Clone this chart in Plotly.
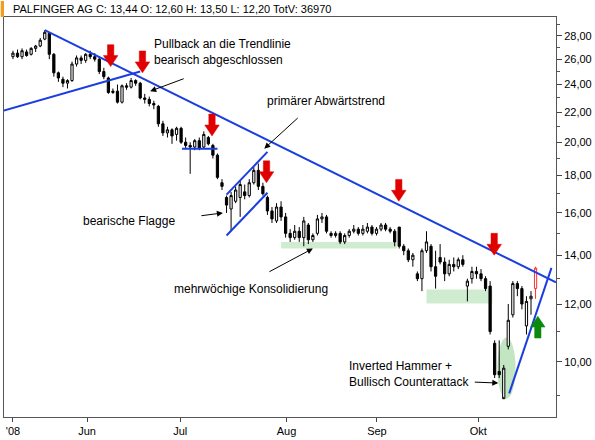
import numpy as np
import plotly.graph_objects as go

# trading-day index, one candle per day (mid May .. 17 Oct 2008)
opens = [26.2, 26.5, 26.2, 26.6, 26.4, 26.9, 27.1, 27.7, 28.2, 26.4, 24.9, 24.4, 24.1, 24.3, 25.6, 26.1,
         25.9, 26.4, 26.2, 26.0, 25.0, 24.5, 23.4, 23.5, 22.7, 23.9, 23.8, 24.3, 24.1, 23.0, 22.9, 22.6,
         22.4, 21.2, 20.6, 20.8, 20.5, 20.9, 20.0, 19.8, 19.7, 20.1, 19.7, 20.3, 19.8, 19.2, 17.6, 16.8,
         16.2, 16.6, 16.8, 17.1, 16.9, 17.6, 18.3, 17.4, 16.8, 16.1, 15.6, 16.3, 15.8, 15.0, 14.8, 15.1,
         14.8, 15.4, 14.7, 15.0, 15.7, 15.8, 15.0, 14.9, 15.0, 14.6, 14.9, 15.1, 15.2, 15.0, 15.1, 15.3,
         15.0, 15.2, 15.4, 15.2, 15.1, 15.3, 14.4, 14.2, 13.8, 13.2, 13.0, 14.2, 14.4, 13.5, 13.9, 13.7,
         13.2, 13.6, 13.5, 13.8, 12.7, 13.0, 13.3, 13.2, 13.0, 12.7, 10.6, 9.7, 8.9, 10.5, 11.6, 12.8,
         12.6, 11.2, 12.2]
highs = [26.7, 26.8, 26.9, 26.8, 27.0, 27.2, 27.8, 28.5, 28.3, 26.5, 25.0, 24.6, 24.4, 25.8, 26.3, 26.3,
         26.5, 26.7, 26.5, 26.2, 25.3, 24.6, 23.7, 24.0, 24.0, 24.1, 24.5, 24.4, 24.2, 23.3, 23.1, 22.8,
         22.5, 21.4, 21.0, 20.9, 21.0, 21.0, 20.3, 20.0, 20.2, 20.3, 20.7, 20.4, 19.9, 19.3, 17.8, 16.9,
         17.1, 17.4, 17.7, 17.5, 17.8, 18.5, 18.7, 17.6, 16.9, 16.3, 16.5, 16.6, 16.0, 15.2, 15.4, 15.3,
         15.8, 15.5, 15.0, 15.9, 16.0, 15.9, 15.1, 15.1, 15.1, 15.0, 15.2, 15.4, 15.3, 15.4, 15.5, 15.4,
         15.3, 15.5, 15.5, 15.3, 15.2, 15.3, 14.5, 14.3, 14.1, 13.3, 14.3, 15.1, 14.5, 14.2, 14.5, 13.9,
         13.8, 13.9, 13.9, 14.0, 13.0, 13.5, 13.5, 13.4, 13.1, 12.9, 10.7, 10.7, 9.9, 12.0, 12.9, 12.9,
         12.7, 12.3, 12.5]
lows = [26.0, 26.1, 26.0, 26.2, 26.3, 26.6, 27.0, 27.6, 26.0, 24.6, 24.2, 23.8, 23.7, 24.2, 25.4, 25.6,
        25.7, 26.0, 25.8, 24.8, 24.4, 23.3, 23.3, 22.6, 22.6, 23.6, 23.7, 23.9, 22.9, 22.6, 22.4, 22.2,
        21.0, 20.4, 20.3, 19.9, 20.1, 19.9, 19.6, 18.1, 19.5, 19.5, 19.6, 19.8, 19.0, 17.8, 17.2, 16.0,
        15.1, 16.5, 15.8, 16.7, 16.8, 17.5, 17.2, 16.9, 15.9, 15.5, 15.5, 15.6, 14.8, 14.6, 14.7, 14.6,
        14.4, 14.5, 14.6, 14.9, 15.5, 15.0, 14.8, 14.8, 14.5, 14.5, 14.8, 15.0, 14.9, 14.9, 15.0, 14.9,
        14.9, 15.1, 15.1, 15.0, 14.4, 14.3, 14.0, 13.7, 13.5, 12.9, 12.5, 14.1, 13.3, 12.6, 13.6, 12.9,
        13.1, 13.3, 13.4, 13.5, 12.1, 12.8, 13.0, 12.9, 12.5, 10.9, 9.5, 9.5, 8.95, 10.4, 11.5, 12.3,
        11.8, 10.9, 11.6]
closes = [26.5, 26.2, 26.7, 26.3, 26.9, 27.1, 27.6, 28.3, 26.4, 24.9, 24.5, 24.1, 24.3, 25.6, 26.1, 25.9,
          26.4, 26.2, 26.0, 25.0, 24.6, 23.4, 23.5, 22.7, 23.9, 23.8, 24.3, 24.1, 23.0, 22.9, 22.6, 22.5,
          21.2, 20.6, 20.8, 20.4, 20.9, 20.0, 19.8, 19.7, 20.1, 19.6, 20.5, 19.9, 19.2, 17.9, 17.4, 16.4,
          16.9, 17.2, 17.5, 16.9, 17.6, 18.3, 17.4, 17.0, 16.1, 15.7, 16.3, 15.8, 15.0, 14.8, 15.1, 14.8,
          15.6, 14.7, 14.9, 15.7, 15.8, 15.1, 14.9, 15.0, 14.6, 14.9, 15.1, 15.2, 15.0, 15.2, 15.3, 15.0,
          15.2, 15.4, 15.2, 15.1, 14.6, 14.4, 14.2, 13.8, 14.0, 13.0, 14.2, 14.6, 13.5, 13.1, 13.7, 13.2,
          13.6, 13.5, 13.8, 13.6, 12.9, 13.3, 13.2, 13.0, 12.6, 11.0, 9.6, 9.6, 9.8, 11.4, 12.8, 12.6,
          12.0, 12.1, 12.3]
last_bar = dict(o=12.60, h=13.50, l=12.20, c=13.44)

month_pos = [0, 16.3, 36.8, 60.2, 80.1, 102.4]
month_lbl = ["'08", "Jun", "Jul", "Aug", "Sep", "Okt"]
price_ticks = [10, 12, 14, 16, 18, 20, 22, 24, 26, 28]
minor_ticks = [9, 11, 13, 15, 17, 19, 21, 23, 25, 27, 29]

# trend lines (index, price)
trend_main = ([7.0, 119.5], [28.5, 12.85])
trend_pull = ([-2.0, 28.0], [22.1, 25.0])
trend_jul = ([37.2, 45.0], [19.6, 19.6])
flag_up = ([47.0, 56.0], [16.95, 19.4])
flag_lo = ([47.0, 56.0], [14.9, 17.05])
trend_up = ([109.2, 118.5], [9.05, 13.45])

# highlighted zones (x0, x1, price0, price1)
zones = [(59.0, 84.5, 14.3, 14.6), (91.0, 105.5, 12.02, 12.56)]
ellipse = (106.6, 110.6, 8.9, 10.8)

red_arrows = [(21.5, 25.4), (28.5, 24.9), (43.8, 20.4), (55.8, 17.6), (84.9, 16.6), (105.9, 14.0)]
green_arrow = (115.5, 11.55)

idx = list(range(len(opens)))
n_last = len(opens)
L = np.log10

fig = go.Figure()

shapes = []
for x0, x1, y0, y1 in zones:
    shapes.append(dict(type='rect', xref='x', yref='y', x0=x0, x1=x1, y0=y0, y1=y1,
                       fillcolor='rgba(120,200,120,0.35)', line=dict(width=0), layer='below'))
shapes.append(dict(type='circle', xref='x', yref='y', x0=ellipse[0], x1=ellipse[1], y0=ellipse[2],
                   y1=ellipse[3], fillcolor='rgba(120,200,120,0.45)', line=dict(width=0), layer='below'))

fig.add_trace(go.Candlestick(
    x=idx, open=opens, high=highs, low=lows, close=closes,
    increasing=dict(line=dict(color='black', width=1), fillcolor='white'),
    decreasing=dict(line=dict(color='black', width=1), fillcolor='black'),
    whiskerwidth=0, showlegend=False, hoverinfo='skip'
))
fig.add_trace(go.Candlestick(
    x=[n_last], open=[last_bar['o']], high=[last_bar['h']], low=[last_bar['l']], close=[last_bar['c']],
    increasing=dict(line=dict(color='#ff3030', width=1), fillcolor='white'),
    whiskerwidth=0, showlegend=False, hoverinfo='skip'
))

for xs, ys in [trend_main, trend_pull, trend_jul, flag_up, flag_lo, trend_up]:
    fig.add_trace(go.Scatter(x=xs, y=ys, mode='lines', line=dict(color='#1a3ee0', width=2),
                             showlegend=False, hoverinfo='skip'))


def add_arrow(xc, ytip, down, color):
    # block arrow (shaft + head); height as a price ratio so it looks the same on the log axis
    h = 0.030
    hw, sw = 1.6, 0.7
    s = 1 if down else -1
    yh = ytip * 10 ** (s * h * 0.5)
    yb = ytip * 10 ** (s * h)
    xs = [xc, xc - hw, xc - sw, xc - sw, xc + sw, xc + sw, xc + hw, xc]
    ys = [ytip, yh, yh, yb, yb, yh, yh, ytip]
    fig.add_trace(go.Scatter(x=xs, y=ys, mode='lines', fill='toself', fillcolor=color,
                             line=dict(color=color, width=0.5), showlegend=False, hoverinfo='skip'))


for xc, yt in red_arrows:
    add_arrow(xc, yt, True, '#e00000')
add_arrow(green_arrow[0], green_arrow[1], False, '#0a8a0a')

fnt = dict(family='Liberation Sans, Arial', size=12, color='black')
notes = [
    dict(x=30.5, y=L(26.6), text='Pullback an die Trendlinie<br>bearisch abgeschlossen'),
    dict(x=55.5, y=L(22.8), text='primärer Abwärtstrend'),
    dict(x=15.0, y=L(15.6), text='bearische Flagge'),
    dict(x=35.0, y=L(12.58), text='mehrwöchige Konsolidierung'),
    dict(x=73.5, y=L(9.63), text='Inverted Hammer +<br>Bullisch Counterattack'),
]
annotations = []
for a in notes:
    annotations.append(dict(xref='x', yref='y', x=a['x'], y=a['y'], text=a['text'], showarrow=False,
                            xanchor='left', yanchor='middle', align='left', font=fnt))
pointers = [(30.2, 23.5, 35, -13), (55.3, 19.6, 35, -32), (46.2, 16.0, -23, 3),
            (66.0, 14.3, -45, 24), (106.8, 9.35, -25, -1)]
for x, y, ax, ay in pointers:
    annotations.append(dict(xref='x', yref='y', x=x, y=L(y), ax=ax, ay=ay, text='', showarrow=True,
                            arrowhead=2, arrowsize=1.2, arrowwidth=1, arrowcolor='black'))
annotations.append(dict(xref='paper', yref='paper', x=0.012, y=1.0, yshift=16, xanchor='left',
                        yanchor='top', showarrow=False,
                        text='PALFINGER AG C: 13,44 O: 12,60 H: 13,50 L: 12,20 TotV: 36970',
                        font=dict(family='Liberation Sans, Arial', size=11, color='black')))
shapes.append(dict(type='rect', xref='paper', yref='paper', x0=-0.006, x1=0.0, y0=1.0, y1=1.04,
                   fillcolor='#f0a020', line=dict(width=0)))

fig.update_layout(
    width=595, height=440,
    margin=dict(l=3, r=37, t=17, b=18),
    paper_bgcolor='white', plot_bgcolor='white',
    font=dict(family='Liberation Sans, Arial', size=11, color='black'),
    shapes=shapes, annotations=annotations, showlegend=False,
    xaxis=dict(range=[-1.97, 119.5], tickvals=month_pos, ticktext=month_lbl, ticks='outside',
               ticklen=4, showgrid=False, zeroline=False, showline=True, linecolor='#555', mirror=True,
               rangeslider=dict(visible=False), tickfont=dict(size=11)),
    yaxis=dict(type='log', range=[L(8.40), L(29.7)], side='right',
               tickvals=price_ticks, ticktext=[f'{v},00' for v in price_ticks],
               ticks='outside', ticklen=5, showgrid=False, zeroline=False, showline=True,
               linecolor='#555', mirror=True, tickfont=dict(size=11),
               minor=dict(tickvals=minor_ticks, ticks='outside', ticklen=3, tickcolor='#555')),
)

fig.write_html("out.html", config={'displayModeBar': False},
               post_script="document.body.style.margin='0';")
